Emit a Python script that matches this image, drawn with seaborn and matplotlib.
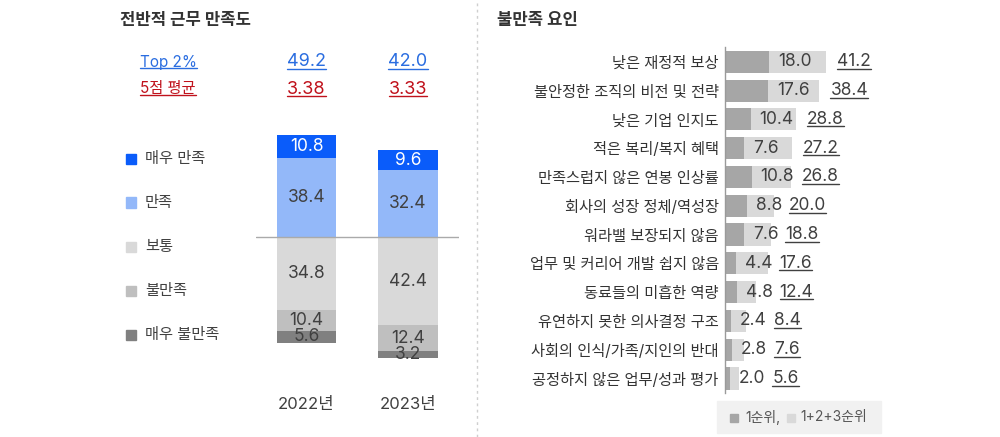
import matplotlib.pyplot as plt
import seaborn as sns
from matplotlib.lines import Line2D
from matplotlib.patches import Rectangle
from matplotlib.transforms import blended_transform_factory

# ---- data ----
years = ["2022년", "2023년"]
very_satisfied = [10.8, 9.6]
satisfied = [38.4, 32.4]
neutral = [34.8, 42.4]
dissatisfied = [10.4, 12.4]
very_dissatisfied = [5.6, 3.2]
top2 = [49.2, 42.0]
avg5 = [3.38, 3.33]

levels = ["매우 만족", "만족", "보통", "불만족", "매우 불만족"]
level_colors = ["#0a5cfa", "#93b8f9", "#d9d9d9", "#bfbfbf", "#808080"]

factors = [
    "낮은 재정적 보상",
    "불안정한 조직의 비전 및 전략",
    "낮은 기업 인지도",
    "적은 복리/복지 혜택",
    "만족스럽지 않은 연봉 인상률",
    "회사의 성장 정체/역성장",
    "워라밸 보장되지 않음",
    "업무 및 커리어 개발 쉽지 않음",
    "동료들의 미흡한 역량",
    "유연하지 못한 의사결정 구조",
    "사회의 인식/가족/지인의 반대",
    "공정하지 않은 업무/성과 평가",
]
rank1 = [18.0, 17.6, 10.4, 7.6, 10.8, 8.8, 7.6, 4.4, 4.8, 2.4, 2.8, 2.0]
rank123 = [41.2, 38.4, 28.8, 27.2, 26.8, 20.0, 18.8, 17.6, 12.4, 8.4, 7.6, 5.6]
rank_colors = ["#a6a6a6", "#d9d9d9"]

sns.set_theme(style="white")
# Latin glyphs from Inter, Hangul falls through to Noto Sans CJK
plt.rcParams["font.family"] = ["Inter", "Noto Sans CJK KR", "DejaVu Sans"]

W, H = 1000, 437
TXT = "#404040"
BLUE = "#2a6de0"
RED = "#c0121c"


def fx(px):
    return px / W


def fy(py):
    return 1 - py / H


fig = plt.figure(figsize=(W / 100, H / 100), dpi=100)
underlined = []

# ---- left: overall satisfaction (diverging stacked bars) ----
ax1 = fig.add_axes([fx(256), fy(380), (459 - 256) / W, (380 - 120) / H])
pos_top = [s + v for s, v in zip(satisfied, very_satisfied)]
neg1 = [-n for n in neutral]
neg2 = [-(n + d) for n, d in zip(neutral, dissatisfied)]
neg3 = [-(n + d + v) for n, d, v in zip(neutral, dissatisfied, very_dissatisfied)]
stack = [(pos_top, level_colors[0]), (satisfied, level_colors[1]),
         (neg3, level_colors[4]), (neg2, level_colors[3]), (neg1, level_colors[2])]
for vals, col in stack:
    sns.barplot(x=years, y=vals, color=col, saturation=1, width=0.586, linewidth=0, ax=ax1)

ax1.axhline(0, color="#aaaaaa", lw=1)
ax1.set_xlim(-0.4975, 1.502)
ax1.set_ylim(-68.77, 56.53)
ax1.set_yticks([])
ax1.set_xlabel("")
ax1.set_ylabel("")
ax1.tick_params(axis="x", length=0, pad=12.5, labelsize=12, labelcolor=TXT)
sns.despine(ax=ax1, left=True, bottom=True)

for i in range(len(years)):
    segs = [
        (satisfied[i] + very_satisfied[i] / 2, very_satisfied[i], "white"),
        (satisfied[i] / 2, satisfied[i], TXT),
        (-neutral[i] / 2, neutral[i], TXT),
        (-(neutral[i] + dissatisfied[i] / 2), dissatisfied[i], TXT),
        (-(neutral[i] + dissatisfied[i] + very_dissatisfied[i] / 2), very_dissatisfied[i], TXT),
    ]
    for y, v, c in segs:
        ax1.text(i, y, f"{v:.1f}", ha="center", va="center", fontsize=12.5, color=c)

trans = blended_transform_factory(ax1.transData, fig.transFigure)
underlined.append(fig.text(fx(140), fy(62), "Top 2%", fontsize=11, color=BLUE, va="center"))
underlined.append(fig.text(fx(140), fy(89), "5점 평균", fontsize=11, color=RED, va="center"))
for i in range(len(years)):
    underlined.append(ax1.text(i, fy(62), f"{top2[i]:.1f}", transform=trans, ha="center",
                               va="center", fontsize=13, color=BLUE))
    underlined.append(ax1.text(i, fy(89), f"{avg5[i]:.2f}", transform=trans, ha="center",
                               va="center", fontsize=13, color=RED))

fig.text(fx(120), fy(21), "전반적 근무 만족도", fontsize=12, fontweight="bold", color="#333333",
         va="center")

# legend (left)
for k, (lab, col) in enumerate(zip(levels, level_colors)):
    yc = [159, 202.5, 246.5, 291, 335][k]
    fig.add_artist(Rectangle((fx(125.5), fy(yc + 5)), 10 / W, 10 / H, color=col,
                             transform=fig.transFigure))
    fig.text(fx(145), fy(yc), lab, fontsize=11, color=TXT, va="center")

# divider
fig.add_artist(Line2D([fx(477), fx(477)], [0, 1], color="#cfcfcf", lw=1,
                      linestyle=(0, (2, 2.5)), transform=fig.transFigure))

# ---- right: dissatisfaction factors ----
ax2 = fig.add_axes([fx(725), fy(392.9), (905 - 725) / W, (392.9 - 47.4) / H])
sns.barplot(x=rank123, y=factors, orient="h", color=rank_colors[1], saturation=1,
            width=0.77, linewidth=0, ax=ax2)
sns.barplot(x=rank1, y=factors, orient="h", color=rank_colors[0], saturation=1,
            width=0.77, linewidth=0, ax=ax2)
ax2.set_xlim(0, (905 - 725) / 2.46)
ax2.set_ylim(len(factors) - 0.5, -0.5)
ax2.set_xticks([])
ax2.set_xlabel("")
ax2.set_ylabel("")
ax2.tick_params(axis="y", length=0, pad=4.5, labelsize=11, labelcolor="#333333")
sns.despine(ax=ax2, bottom=True)
ax2.spines["left"].set_color("#9a9a9a")
ax2.spines["left"].set_linewidth(1)

first_labels = []
for i, v in enumerate(rank1):
    first_labels.append(ax2.annotate(f"{v:.1f}", xy=(v, i), xytext=(9 * 0.72, 0),
                                     textcoords="offset points", ha="left", va="center",
                                     fontsize=12.5, color=TXT))

fig.text(fx(497), fy(20), "불만족 요인", fontsize=12, fontweight="bold", color="#333333", va="center")

# legend (right)
fig.add_artist(Rectangle((fx(717), fy(433)), (881 - 717) / W, 32 / H, color="#f1f1f1",
                         transform=fig.transFigure))
fig.add_artist(Rectangle((fx(730), fy(421.5)), 7.5 / W, 7.5 / H, color=rank_colors[0],
                         transform=fig.transFigure))
fig.text(fx(745), fy(417.5), "1순위,", fontsize=10, color="#555555", va="center")
fig.add_artist(Rectangle((fx(787), fy(421.5)), 7.5 / W, 7.5 / H, color=rank_colors[1],
                         transform=fig.transFigure))
fig.text(fx(800), fy(417.5), "1+2+3순위", fontsize=10, color="#555555", va="center")

# totals placed after the first-rank labels
fig.canvas.draw()
renderer = fig.canvas.get_renderer()
for i, t in enumerate(rank123):
    bar_end, yc = ax2.transData.transform((t, i))
    lab_end = first_labels[i].get_window_extent(renderer).x1
    x = max(bar_end + 11, lab_end + 7)
    underlined.append(fig.text(x / W, yc / H, f"{t:.1f}", fontsize=12.5, color=TXT,
                               ha="left", va="center"))

fig.canvas.draw()
for t in underlined:
    bb = t.get_window_extent(renderer)
    yl = bb.y0 + 1.5
    fig.add_artist(Line2D([bb.x0 / W, bb.x1 / W], [yl / H, yl / H], color=t.get_color(),
                          lw=1, transform=fig.transFigure))

fig.savefig("out.png", dpi=100)
